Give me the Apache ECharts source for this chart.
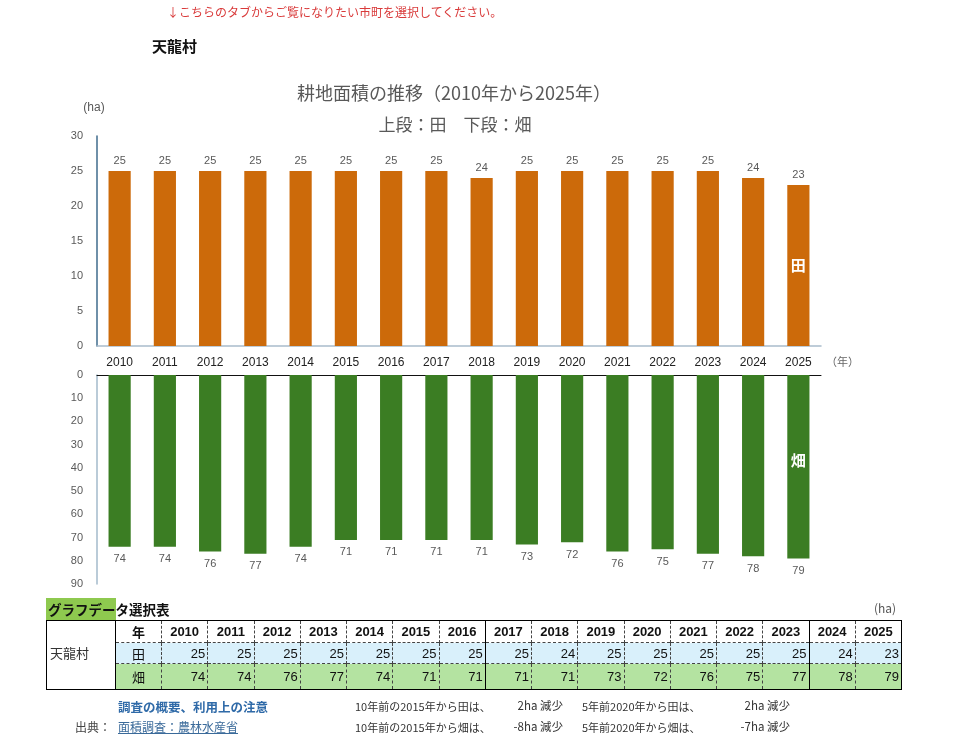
<!DOCTYPE html>
<html>
<head>
<meta charset="utf-8">
<script src="https://cdn.jsdelivr.net/npm/echarts@6/dist/echarts.min.js"></script>
<style>
  html, body { margin:0; padding:0; background:#fff; }
  body { width:960px; height:739px; position:relative; overflow:hidden;
         font-family:"Liberation Sans","Noto Sans CJK JP",sans-serif; }
  #chart { position:absolute; left:0; top:0; width:960px; height:739px; }
  .abs { position:absolute; white-space:nowrap; }
  .jp { font-family:"Noto Sans CJK JP",sans-serif; }
  #tbl { position:absolute; left:46px; top:620px; width:855px; border-collapse:collapse;
         table-layout:fixed; border:1px solid #000; font-size:13px; color:#111; }
  #tbl td { padding:0 2px; border-left:1px dashed #444; border-top:1px dashed #444; line-height:1; }
  #tbl td.solidL { border-left:1px solid #000; }
  #tbl tr.hdr td { height:21px; font-weight:bold; text-align:center; background:#fff; }
  #tbl tr.ta td { height:20px; text-align:right; background:#d9f0fb; }
  #tbl tr.ha td { height:25px; text-align:right; background:#b4e3a1; }
  #tbl td.lbl { text-align:center !important; font-family:"Noto Sans CJK JP",sans-serif; }
  #tbl tr.hdr td.name { background:#fff; text-align:left; color:#333; border-left:none; border-top:none; font-weight:normal;
                 border-right:1px solid #000; vertical-align:middle; padding-left:3px; padding-bottom:6px; font-family:"Noto Sans CJK JP",sans-serif; }
</style>
</head>
<body>
<div id="chart"></div>
<div class="abs jp" style="left:167px;top:3px;font-size:12px;color:#d93a3a;">↓こちらのタブからご覧になりたい市町を選択してください。</div>
<div class="abs jp" style="left:152px;top:35px;font-size:15px;font-weight:bold;color:#111;">天龍村</div>

<div class="abs" style="left:46px;top:598px;width:70px;height:22px;background:#8ec94f;"></div>
<div class="abs jp" style="left:48px;top:599px;font-size:13.5px;font-weight:bold;color:#111;line-height:20px;">グラフデータ選択表</div>
<div class="abs jp" style="left:874px;top:599px;font-size:12px;color:#555;">(ha)</div>
<table id="tbl"></table>
<div id="notes"></div>

<script>
const town = '天龍村';
const years = ['2010','2011','2012','2013','2014','2015','2016','2017','2018','2019','2020','2021','2022','2023','2024','2025'];
const taValues = [25,25,25,25,25,25,25,25,24,25,25,25,25,25,24,23];
const hataValues = [74,74,76,77,74,71,71,71,71,73,72,76,75,77,78,79];
const seriesNames = ['田','畑'];
const titleText = '耕地面積の推移（2010年から2025年）';
const subtitleText = '上段：田　下段：畑';

const last = years.length - 1;
const orange = '#cc6a0a';
const green = '#3b7d23';
const axisGray = '#595959';
const numFont = '"Liberation Sans","Noto Sans CJK JP",sans-serif';
const jpFont = '"Noto Sans CJK JP",sans-serif';

const chart = echarts.init(document.getElementById('chart'), null, {renderer:'canvas'});
const option = {
  animation:false,
  title:[
    {text:titleText, left:449, top:79, textAlign:'center',
     textStyle:{fontSize:18, fontWeight:'normal', color:'#595959', fontFamily:jpFont}},
    {text:subtitleText, left:450, top:111, textAlign:'center',
     textStyle:{fontSize:17, fontWeight:'normal', color:'#595959', fontFamily:jpFont}}
  ],
  grid:[
    {left:97, top:136, width:724, height:210},
    {left:97, top:375, width:724, height:209}
  ],
  xAxis:[
    {type:'category', gridIndex:0, data:years,
     axisLine:{lineStyle:{color:'#a9bccb', width:1.5}}, axisTick:{show:false},
     axisLabel:{margin:11, color:'#222', fontSize:12, fontFamily:numFont}},
    {type:'category', gridIndex:1, data:years, position:'top',
     axisLine:{lineStyle:{color:'#111', width:1}}, axisTick:{show:false},
     axisLabel:{show:false}}
  ],
  yAxis:[
    {type:'value', gridIndex:0, min:0, max:30, interval:5,
     name:'(ha)', nameGap:22, nameTextStyle:{color:axisGray, fontSize:12, fontFamily:numFont, padding:[0,6,0,0]},
     axisLine:{show:true, lineStyle:{color:'#3f6b8c', width:1.5}}, axisTick:{show:false},
     splitLine:{show:false},
     axisLabel:{margin:14, color:axisGray, fontSize:11, fontFamily:numFont}},
    {type:'value', gridIndex:1, min:0, max:90, interval:10, inverse:true,
     axisLine:{show:true, lineStyle:{color:'#a3bacb', width:1.5}}, axisTick:{show:false},
     splitLine:{show:false},
     axisLabel:{margin:14, color:axisGray, fontSize:11, fontFamily:numFont}}
  ],
  series:[
    {name:seriesNames[0], type:'bar', xAxisIndex:0, yAxisIndex:0, data:taValues,
     barWidth:'49%', itemStyle:{color:orange},
     label:{show:true, position:'top', distance:5, color:axisGray, fontSize:11, fontFamily:numFont}},
    {name:seriesNames[0]+'_tag', type:'bar', xAxisIndex:0, yAxisIndex:0, data:taValues,
     barWidth:'49%', barGap:'-100%', itemStyle:{color:'rgba(0,0,0,0)'}, silent:true,
     label:{show:true, position:'inside', color:'#fff', fontSize:15, fontWeight:'bold', fontFamily:jpFont,
       formatter:p => p.dataIndex === last ? seriesNames[0] : ''}},
    {name:seriesNames[1], type:'bar', xAxisIndex:1, yAxisIndex:1, data:hataValues,
     barWidth:'49%', itemStyle:{color:green},
     label:{show:true, position:'bottom', distance:7, color:axisGray, fontSize:11, fontFamily:numFont}},
    {name:seriesNames[1]+'_tag', type:'bar', xAxisIndex:1, yAxisIndex:1, data:hataValues,
     barWidth:'49%', barGap:'-100%', itemStyle:{color:'rgba(0,0,0,0)'}, silent:true,
     label:{show:true, position:'inside', offset:[0,-6], color:'#fff', fontSize:15, fontWeight:'bold', fontFamily:jpFont,
       formatter:p => p.dataIndex === last ? seriesNames[1] : ''}}
  ],
  graphic:[
    {type:'text', left:826, top:356, style:{text:'（年）', fill:'#666', fontSize:11, fontFamily:jpFont}}
  ]
};
chart.setOption(option);

// table built from the same arrays
const tbl = document.getElementById('tbl');
let cg = '<colgroup><col style="width:69px"><col style="width:46px">';
years.forEach(() => cg += '<col style="width:46.25px">');
cg += '</colgroup>';
const solidAfter = ['2016','2023'];
function cls(i){ return (i>0 && solidAfter.includes(years[i-1])) ? ' class="solidL"' : ''; }
let h = cg + '<tr class="hdr"><td class="name" rowspan="3">'+town+'</td><td class="lbl" style="border-top:none">年</td>';
years.forEach((y,i) => h += '<td'+cls(i)+' style="border-top:none;">'+y+'</td>');
h += '</tr><tr class="ta"><td class="lbl">'+seriesNames[0]+'</td>';
taValues.forEach((v,i) => h += '<td'+cls(i)+'>'+v+'</td>');
h += '</tr><tr class="ha"><td class="lbl">'+seriesNames[1]+'</td>';
hataValues.forEach((v,i) => h += '<td'+cls(i)+'>'+v+'</td>');
h += '</tr>';
tbl.innerHTML = h;

// notes
const i2015 = years.indexOf('2015'), i2020 = years.indexOf('2020');
const d10ta = taValues[i2015]-taValues[last], d10ha = hataValues[i2015]-hataValues[last];
const d5ta = taValues[i2020]-taValues[last], d5ha = hataValues[i2020]-hataValues[last];
function note(left, top, size, color, text, extra){
  return '<div class="abs jp" style="left:'+left+'px;top:'+top+'px;font-size:'+size+'px;color:'+color+';'+(extra||'')+'">'+text+'</div>';
}
const right = 'transform:translateX(-100%);';
document.getElementById('notes').innerHTML =
  note(118, 697, 12.5, '#2f6aa8', '調査の概要、利用上の注意', 'font-weight:bold;') +
  note(75, 718, 12, '#444', '出典：') +
  note(118, 718, 12, '#3a6a9a', '面積調査：農林水産省', 'text-decoration:underline;') +
  note(355, 698, 11, '#333', '10年前の2015年から'+seriesNames[0]+'は、') +
  note(563, 697, 11.5, '#333', d10ta+'ha 減少', right) +
  note(582, 698, 11, '#333', '5年前2020年から'+seriesNames[0]+'は、') +
  note(790, 697, 11.5, '#333', d5ta+'ha 減少', right) +
  note(355, 719, 11, '#333', '10年前の2015年から'+seriesNames[1]+'は、') +
  note(563, 718, 11.5, '#333', d10ha+'ha 減少', right) +
  note(582, 719, 11, '#333', '5年前2020年から'+seriesNames[1]+'は、') +
  note(790, 718, 11.5, '#333', d5ha+'ha 減少', right);
</script>
</body>
</html>
